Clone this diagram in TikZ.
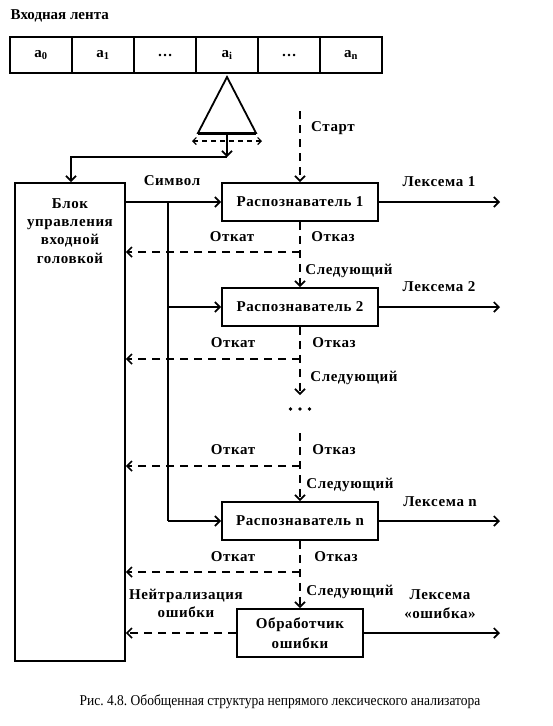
\documentclass[tikz,border=0pt]{standalone}
\usepackage{fontspec}
\usepackage{graphicx}
\setmainfont{Liberation Serif}
\newfontfamily\lblfont{Liberation Serif}[LetterSpace=4]
\newfontfamily\ttlfont{Liberation Serif}
\usetikzlibrary{arrows.meta}
\frenchspacing
\begin{document}
\begin{tikzpicture}[x=1pt,y=-1pt,
  ln/.style={line width=1.8pt},
  dsh/.style={line width=1.8pt, dash pattern=on 8pt off 6pt},
  arr/.style={-{Straight Barb[length=5pt,width=10pt,line width=1.7pt]}},
  lbl/.style={font=\lblfont\bfseries\fontsize{15}{18.3}\selectfont, inner sep=0pt, align=center},
  rbox/.style={draw, line width=1.8pt, minimum width=156pt, minimum height=38pt, inner sep=0pt, lbl},
  cell/.style={draw, line width=2pt, minimum width=62pt, minimum height=36pt, inner sep=0pt, lbl}
]
\useasboundingbox (0,0) rectangle (552,726);
% title
\node[lbl, font=\ttlfont\bfseries\fontsize{15}{16}\selectfont, anchor=west] (title) at (10.5,15.5) {Входная лента};
% tape
\node[cell] (c0) at (41,55) {a\textsubscript{0}};
\node[cell] (c1) at (103,55) {a\textsubscript{1}};
\node[cell] (c2) at (165,55) {…};
\node[cell] (c3) at (227,55) {a\textsubscript{i}};
\node[cell] (c4) at (289,55) {…};
\node[cell] (c5) at (351,55) {a\textsubscript{n}};
% head
\coordinate (apex) at (227,77);
\coordinate (bl) at (198,133);
\coordinate (br) at (256,133);
\coordinate (hb) at (227,133);
\draw[ln, line join=miter] (apex) -- (br) -- (bl) -- cycle;
\draw[line width=3pt] (bl) -- (br);
\coordinate (ml) at (192,141);
\coordinate (mr) at (262,141);
\draw[line width=1.3pt, dash pattern=on 5pt off 4pt, {Straight Barb[length=3.5pt,width=7pt,line width=1.2pt]}-{Straight Barb[length=3.5pt,width=7pt,line width=1.2pt]}] (ml) -- (mr);
\coordinate (hj) at (227,157);
\coordinate (bj) at (71,157);
% block
\node[draw, line width=1.8pt, minimum width=110pt, minimum height=478pt, anchor=north west, inner sep=0pt] (blk) at (14,182) {};
\node[lbl] (blktxt) at (70,231) {Блок\\управления\\входной\\головкой};
\draw[ln,arr] (hb) -- (hj);
\draw[ln,arr] (hj) -- (bj) -- (bj |- blk.north);
% recognizers
\node[rbox] (r1) at (300,202) {Распознаватель 1};
\node[rbox] (r2) at (300,307) {Распознаватель 2};
\node[rbox] (rn) at (300,521) {Распознаватель n};
\node[rbox, minimum width=126pt, minimum height=48pt, font=\lblfont\bfseries\fontsize{15}{20}\selectfont] (eh) at (300,633) {Обработчик\\ошибки};
% start
\coordinate (st) at (300,111);
\draw[dsh,arr] (st) -- (r1.north);
\node[lbl] (lst) at (333,128) {Старт};
% symbol lines
\coordinate (sv1) at (168,202);
\coordinate (sv2) at (168,307);
\coordinate (svn) at (168,521);
\draw[ln,arr] (blk.east |- r1.west) -- (r1.west);
\draw[ln] (sv1) -- (svn);
\draw[ln,arr] (sv2) -- (r2.west);
\draw[ln,arr] (svn) -- (rn.west);
\node[lbl] (lsym) at (172,181) {Символ};
% outputs
\coordinate (o1) at (500,202);
\coordinate (o2) at (500,307);
\coordinate (on) at (500,521);
\coordinate (oe) at (500,633);
\draw[ln,arr] (r1.east) -- (o1);
\draw[ln,arr] (r2.east) -- (o2);
\draw[ln,arr] (rn.east) -- (on);
\draw[ln,arr] (eh.east) -- (oe);
\node[lbl] (lx1) at (439,182) {Лексема 1};
\node[lbl] (lx2) at (439,287) {Лексема 2};
\node[lbl] (lxn) at (440,502) {Лексема n};
\node[lbl, font=\lblfont\bfseries\fontsize{15}{18.5}\selectfont] (lxe) at (440,604) {Лексема\\«ошибка»};
% dashed chain
\coordinate (k1) at (300,252);
\coordinate (k2) at (300,359);
\coordinate (k3) at (300,466);
\coordinate (k4) at (300,572);
\coordinate (d1) at (300,395);
\coordinate (d2) at (300,433);
\draw[dsh,arr] (r1.south) -- (r2.north);
\draw[dsh,arr] (k1) -- (k1 -| blk.east);
\draw[dsh,arr] (r2.south) -- (d1);
\draw[dsh,arr] (k2) -- (k2 -| blk.east);
\node[minimum size=2pt, inner sep=0pt] (dots) at (300,409) {};
\fill (dots.center) ++(-9.5,0) circle (1.9pt) ++(9.5,0) circle (1.9pt) ++(9.5,0) circle (1.9pt);
\draw[dsh,arr] (d2) -- (rn.north);
\draw[dsh,arr] (k3) -- (k3 -| blk.east);
\draw[dsh,arr] (rn.south) -- (eh.north);
\draw[dsh,arr] (k4) -- (k4 -| blk.east);
\draw[dsh,arr] (eh.west) -- (eh.west -| blk.east);
% labels
\node[lbl] (lb1) at (232,237) {Откат};
\node[lbl] (lf1) at (333,237) {Отказ};
\node[lbl] (ln1) at (349,271) {Следующий};
\node[lbl] (lb2) at (233,343) {Откат};
\node[lbl] (lf2) at (334,343) {Отказ};
\node[lbl] (ln2) at (354,378) {Следующий};
\node[lbl] (lb3) at (233,450) {Откат};
\node[lbl] (lf3) at (334,450) {Отказ};
\node[lbl] (ln3) at (350,485) {Следующий};
\node[lbl] (lb4) at (233,557) {Откат};
\node[lbl] (lf4) at (336,557) {Отказ};
\node[lbl] (ln4) at (350,592) {Следующий};
\node[lbl] (lnz) at (186,603.5) {Нейтрализация\\ошибки};
% caption
\node[inner sep=0pt, font=\fontsize{15}{17}\selectfont] (cap) at (280,701.7) {\scalebox{0.9}[1]{Рис. 4.8. Обобщенная структура непрямого лексического анализатора}};
\end{tikzpicture}
\end{document}
